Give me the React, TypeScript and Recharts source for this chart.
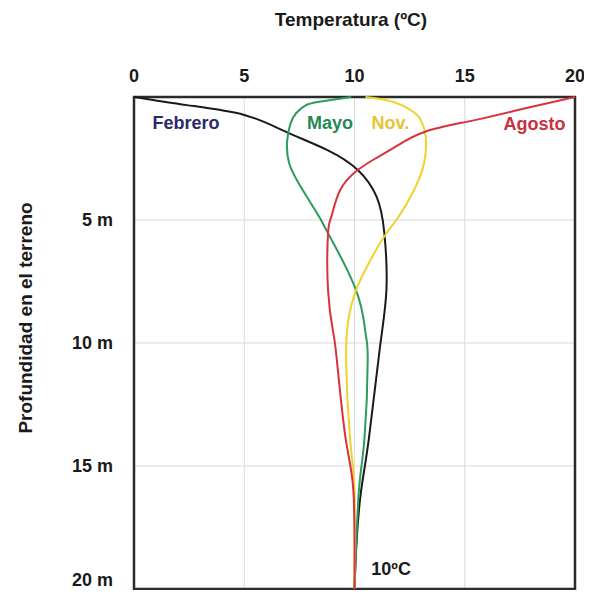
import {
  CartesianGrid,
  Line,
  LineChart,
  ReferenceArea,
  ReferenceDot,
  XAxis,
  YAxis,
} from "recharts";

// temperature (ºC) against depth in the ground (m)
const tempTicks = [0, 5, 10, 15, 20];
const depthTicks = [5, 10, 15, 20];

const febrero = [
  { depth: 0, temp: 0 },
  { depth: 0.33, temp: 2.4 },
  { depth: 0.73, temp: 5 },
  { depth: 1.42, temp: 6.9 },
  { depth: 2.15, temp: 8.75 },
  { depth: 2.97, temp: 10.15 },
  { depth: 4.05, temp: 11 },
  { depth: 5.5, temp: 11.35 },
  { depth: 7.8, temp: 11.45 },
  { depth: 10.2, temp: 11.15 },
  { depth: 13.9, temp: 10.65 },
  { depth: 16, temp: 10.3 },
  { depth: 18, temp: 10.1 },
  { depth: 20, temp: 10 },
];

const mayo = [
  { depth: 0, temp: 9.85 },
  { depth: 0.19, temp: 8.4 },
  { depth: 0.33, temp: 7.8 },
  { depth: 0.66, temp: 7.35 },
  { depth: 1.07, temp: 7.1 },
  { depth: 1.75, temp: 6.95 },
  { depth: 2.7, temp: 7.04 },
  { depth: 3.78, temp: 7.65 },
  { depth: 4.87, temp: 8.4 },
  { depth: 5.54, temp: 8.8 },
  { depth: 7.85, temp: 10.07 },
  { depth: 9.6, temp: 10.5 },
  { depth: 10.7, temp: 10.6 },
  { depth: 13.9, temp: 10.45 },
  { depth: 16, temp: 10.2 },
  { depth: 20, temp: 10 },
];

const noviembre = [
  { depth: 0, temp: 10.5 },
  { depth: 0.12, temp: 11.4 },
  { depth: 0.33, temp: 12.15 },
  { depth: 0.66, temp: 12.75 },
  { depth: 0.93, temp: 13 },
  { depth: 1.6, temp: 13.23 },
  { depth: 2.7, temp: 13.15 },
  { depth: 3.78, temp: 12.7 },
  { depth: 4.87, temp: 12.0 },
  { depth: 5.54, temp: 11.45 },
  { depth: 6.5, temp: 10.8 },
  { depth: 7.85, temp: 10.07 },
  { depth: 9.07, temp: 9.72 },
  { depth: 10.7, temp: 9.62 },
  { depth: 13.9, temp: 9.8 },
  { depth: 16, temp: 10 },
  { depth: 20, temp: 10 },
];

const agosto = [
  { depth: 0, temp: 20 },
  { depth: 0.45, temp: 17.8 },
  { depth: 0.95, temp: 15.4 },
  { depth: 1.41, temp: 13.2 },
  { depth: 2.0, temp: 11.9 },
  { depth: 2.5, temp: 10.95 },
  { depth: 2.97, temp: 10.15 },
  { depth: 3.78, temp: 9.35 },
  { depth: 4.87, temp: 8.95 },
  { depth: 5.54, temp: 8.8 },
  { depth: 7.85, temp: 8.8 },
  { depth: 9.6, temp: 9.04 },
  { depth: 10.7, temp: 9.2 },
  { depth: 13.9, temp: 9.6 },
  { depth: 16, temp: 9.95 },
  { depth: 20, temp: 10 },
];

const series = [
  { name: "Febrero", data: febrero, color: "#1a1a1a" },
  { name: "Mayo", data: mayo, color: "#2b9b5e" },
  { name: "Nov.", data: noviembre, color: "#f0d22a" },
  { name: "Agosto", data: agosto, color: "#d8323f" },
];

const curveLabels = [
  { text: "Febrero", temp: 2.36, depth: 1.06, color: "#2c2a6a" },
  { text: "Mayo", temp: 8.89, depth: 1.06, color: "#1f8a55" },
  { text: "Nov.", temp: 11.63, depth: 1.06, color: "#e6c535" },
  { text: "Agosto", temp: 18.16, depth: 1.1, color: "#c8313f" },
  { text: "10ºC", temp: 11.66, depth: 19.19, color: "#1a1a1a" },
];

const ink = "#1a1a1a";

export default function App() {
  return (
    <div
      style={{
        width: 576,
        height: 582,
        fontFamily: "'Liberation Sans', Arial, sans-serif",
        fontWeight: 700,
      }}
    >
      <LineChart
        width={576}
        height={582}
        layout="vertical"
        margin={{ top: 0, right: 9, bottom: 1, left: 0 }}
      >
        <CartesianGrid stroke="#d9d9d9" strokeWidth={1} />
        <XAxis
          type="number"
          orientation="top"
          domain={[0, 20]}
          ticks={tempTicks}
          height={89}
          axisLine={false}
          tickLine={false}
          tickMargin={9}
          tick={{ fill: ink, fontSize: 18 }}
          label={{
            content: () => (
              <text x={343} y={18} textAnchor="middle" fill={ink} fontSize={19}>
                Temperatura (ºC)
              </text>
            ),
          }}
        />
        <YAxis
          type="number"
          dataKey="depth"
          domain={[0, 20]}
          ticks={depthTicks}
          width={126}
          axisLine={false}
          tickLine={false}
          tickMargin={15}
          tick={{ fill: ink, fontSize: 18 }}
          tickFormatter={(v) => `${v} m`}
          label={{
            content: () => (
              <text
                x={24}
                y={310}
                transform="rotate(-90 24 310)"
                textAnchor="middle"
                fill={ink}
                fontSize={19}
              >
                Profundidad en el terreno
              </text>
            ),
          }}
        />
        {series.map((s) => (
          <Line
            key={s.name}
            data={s.data}
            dataKey="temp"
            name={s.name}
            type="natural"
            stroke={s.color}
            strokeWidth={2}
            dot={false}
            activeDot={false}
            isAnimationActive={false}
          />
        ))}
        <ReferenceArea
          x1={0}
          x2={20}
          y1={0}
          y2={20}
          fill="none"
          stroke="#2b2b2b"
          strokeWidth={2.5}
          fillOpacity={0}
        />
        {curveLabels.map((l) => (
          <ReferenceDot
            key={l.text}
            x={l.temp}
            y={l.depth}
            r={0}
            fill="none"
            stroke="none"
            label={{
              value: l.text,
              position: "center",
              fill: l.color,
              fontSize: 18,
            }}
          />
        ))}
      </LineChart>
    </div>
  );
}
